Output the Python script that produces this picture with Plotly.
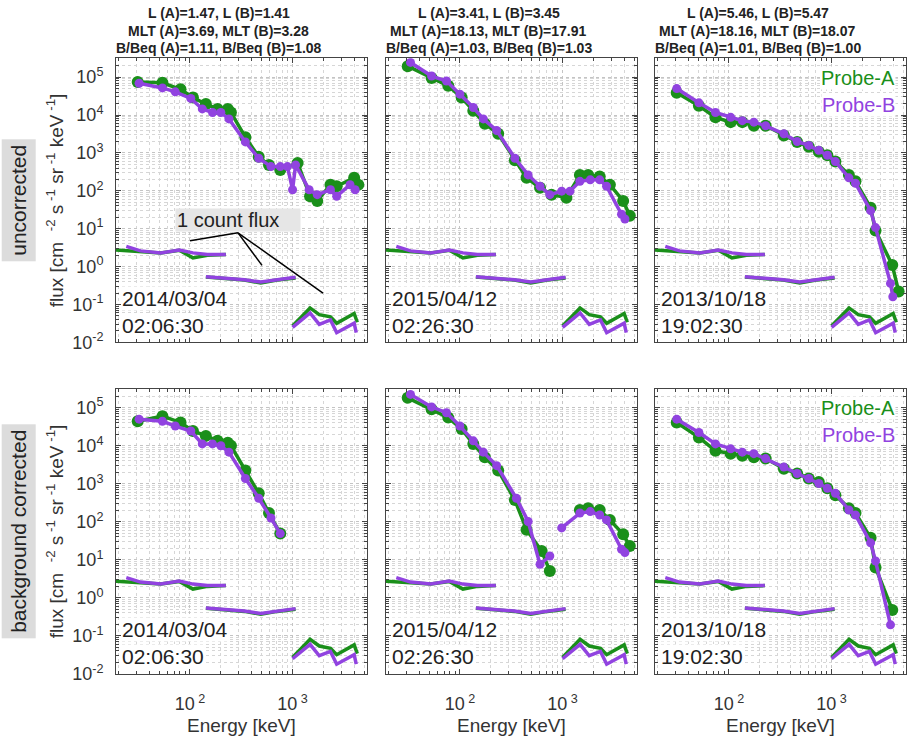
import math
import plotly.graph_objects as go

# ---------------- data ----------------
# 1-count flux levels (same in every panel)
cnt_low_e_a = [19, 29, 52, 79, 107, 148, 224]
cnt_low_f_a = [2.75, 2.5, 2.3, 2.7, 1.7, 2.0, 2.1]
cnt_low_e_b = [24, 33, 52, 79, 107, 148, 224]
cnt_low_f_b = [3.4, 2.6, 2.3, 2.75, 2.3, 2.1, 2.1]
cnt_med_e = [143, 214, 339, 490, 708, 1070]
cnt_med_f_a = [0.53, 0.48, 0.44, 0.37, 0.44, 0.50]
cnt_med_f_b = [0.54, 0.50, 0.45, 0.39, 0.45, 0.52]
cnt_high_e_a = [1000, 1480, 1820, 2340, 2690, 3980, 4270]
cnt_high_f_a = [0.027, 0.081, 0.054, 0.047, 0.032, 0.058, 0.034]
cnt_high_e_b = [1000, 1480, 1820, 2340, 2690, 3980, 4170]
cnt_high_f_b = [0.025, 0.060, 0.030, 0.039, 0.018, 0.032, 0.018]

# uncorrected, 2014/03/04
tl_a_e = [31, 54, 81, 107, 143, 186, 234, 251, 347, 468, 589, 759, 1120, 1480, 1740, 2340, 2690, 3980, 4370]
tl_a_f = [7.4e4, 7.1e4, 4.8e4, 2.9e4, 1.95e4, 1.45e4, 1.45e4, 1.17e4, 2.6e3, 790, 480, 355, 540, 72, 54, 145, 132, 220, 145]
tl_b_e = [32, 54, 72, 102, 132, 166, 200, 240, 347, 468, 616, 759, 891, 1000, 1070, 1450, 1740, 2340, 2690, 3630, 4070]
tl_b_f = [6.9e4, 5.2e4, 4.1e4, 2.75e4, 1.45e4, 1.17e4, 1.17e4, 7.9e3, 1.95e3, 725, 435, 435, 435, 107, 480, 107, 79, 107, 72, 145, 107]
# uncorrected, 2015/04/12
tm_a_e = [31, 53, 77, 104, 135, 175, 236, 343, 446, 603, 780, 1090, 1475, 1775, 2300, 2890, 3890, 4520]
tm_a_f = [1.95e5, 9.5e4, 5.9e4, 2.9e4, 1.29e4, 5.9e3, 3.2e3, 645, 220, 120, 79, 66, 263, 263, 240, 145, 54, 22]
tm_b_e = [33, 53, 74, 100, 135, 169, 228, 343, 462, 603, 751, 980, 1180, 1475, 1860, 2300, 2680, 3750, 4050]
tm_b_f = [2.45e5, 1.07e5, 7.9e4, 3.55e4, 1.58e4, 7.9e3, 3.9e3, 725, 263, 132, 79, 98, 98, 178, 195, 195, 132, 24, 18]
# uncorrected, 2013/10/18
tr_a_e = [31, 51, 74, 104, 135, 175, 228, 343, 462, 600, 751, 910, 1090, 1475, 1710, 2400, 2680, 3900, 4500]
tr_a_f = [3.9e4, 1.76e4, 8.7e3, 6.5e3, 6.5e3, 5.2e3, 5.2e3, 2.9e3, 1.95e3, 1.45e3, 1.07e3, 870, 590, 263, 178, 36, 8.9, 1.1, 0.22]
tr_b_e = [31, 51, 74, 104, 135, 175, 228, 343, 462, 600, 751, 910, 1090, 1475, 1710, 2400, 2680, 3750, 3950]
tr_b_f = [5.0e4, 2.1e4, 1.17e4, 8.7e3, 7.1e3, 6.5e3, 5.2e3, 3.2e3, 2.0e3, 1.58e3, 1.17e3, 870, 590, 220, 158, 30, 10.7, 0.36, 0.16]
# background corrected, 2014/03/04
bl_a_e = [31, 54, 81, 107, 143, 186, 234, 251, 347, 468, 589, 759]
bl_a_f = [4.4e4, 6.0e4, 4.1e4, 2.45e4, 1.82e4, 1.35e4, 1.2e4, 1.0e4, 2.24e3, 560, 170, 49]
bl_b_e = [32, 54, 72, 102, 132, 166, 200, 240, 347, 468, 616, 759]
bl_b_f = [5.0e4, 4.4e4, 3.3e4, 2.45e4, 1.12e4, 1.12e4, 1.0e4, 6.8e3, 1.38e3, 417, 126, 49]
# background corrected, 2015/04/12 (None = gap)
bm_a_e = [31, 53, 77, 104, 135, 175, 236, 343, 446, 625, 751, None, 1475, 1775, 2300, 2890, 3890, 4520]
bm_a_f = [1.82e5, 9.1e4, 5.5e4, 2.75e4, 1.12e4, 5.0e3, 2.24e3, 372, 62, 17, 5.1, None, 204, 229, 204, 112, 47, 23]
bm_b_e = [33, 53, 74, 100, 135, 169, 228, 355, 462, 603, 751, None, 980, 1475, 1860, 2300, 2680, 3750, 4050]
bm_b_f = [2.24e5, 1.05e5, 7.4e4, 3.3e4, 1.35e4, 6.8e3, 3.0e3, 417, 102, 7.6, 12.6, None, 69, 170, 186, 151, 112, 19, 15.5]
# background corrected, 2013/10/18
br_a_e = [31, 51, 74, 104, 135, 175, 228, 343, 462, 600, 751, 910, 1090, 1475, 1710, 2400, 2680, 3900]
br_a_f = [4.1e4, 1.66e4, 7.4e3, 6.2e3, 5.5e3, 5.0e3, 4.6e3, 2.5e3, 1.86e3, 1.38e3, 1.12e3, 760, 500, 229, 170, 38, 6.3, 0.48]
br_b_e = [31, 51, 74, 104, 135, 175, 228, 343, 462, 600, 751, 910, 1090, 1475, 1710, 2400, 2680, 3750]
br_b_f = [5.0e4, 2.24e4, 1.12e4, 8.3e3, 6.8e3, 6.2e3, 4.6e3, 2.75e3, 1.86e3, 1.38e3, 1.02e3, 760, 560, 204, 151, 28, 9.3, 0.195]

col_titles = [
    ["L (A)=1.47, L (B)=1.41", "MLT (A)=3.69, MLT (B)=3.28", "B/Beq (A)=1.11, B/Beq (B)=1.08"],
    ["L (A)=3.41, L (B)=3.45", "MLT (A)=18.13, MLT (B)=17.91", "B/Beq (A)=1.03, B/Beq (B)=1.03"],
    ["L (A)=5.46, L (B)=5.47", "MLT (A)=18.16, MLT (B)=18.07", "B/Beq (A)=1.01, B/Beq (B)=1.00"],
]
col_dates = ["2014/03/04", "2015/04/12", "2013/10/18"]
col_times = ["02:06:30", "02:26:30", "19:02:30"]
row_labels = ["uncorrected", "background corrected"]
y_tick_vals = [1e-2, 1e-1, 1e0, 1e1, 1e2, 1e3, 1e4, 1e5]
y_tick_text = ["10<sup>-2</sup>", "10<sup>-1</sup>", "10<sup>0</sup>", "10<sup>1</sup>",
               "10<sup>2</sup>", "10<sup>3</sup>", "10<sup>4</sup>", "10<sup>5</sup>"]
x_tick_vals = [100, 1000]
x_tick_text = ["10<sup> 2</sup>", "10<sup> 3</sup>"]

panels = [
    (tl_a_e, tl_a_f, tl_b_e, tl_b_f),
    (tm_a_e, tm_a_f, tm_b_e, tm_b_f),
    (tr_a_e, tr_a_f, tr_b_e, tr_b_f),
    (bl_a_e, bl_a_f, bl_b_e, bl_b_f),
    (bm_a_e, bm_a_f, bm_b_e, bm_b_f),
    (br_a_e, br_a_f, br_b_e, br_b_f),
]

# ---------------- layout geometry ----------------
W, H = 908, 749
GREEN = "#1a8f1a"
PURPLE = "#9143e0"
FONT = "Liberation Sans, Arial, sans-serif"
cols_x = [(116, 367), (386, 637), (655, 906)]
rows_y = [(59, 347), (394, 683)]
XR = [1.28, 3.725]
YR = [-2, 5.5]


def px(x):
    return x / W


def py(y):
    return 1 - y / H


x_minor = [k * 10 ** d for d in (1, 2, 3) for k in range(2, 10) if 10 ** XR[0] <= k * 10 ** d <= 10 ** XR[1]]
y_minor = [k * 10 ** d for d in range(-2, 6) for k in range(2, 10) if k * 10 ** d <= 10 ** YR[1]]

fig = go.Figure()
layout = dict(width=W, height=H, margin=dict(l=0, r=0, t=0, b=0), autosize=False,
              paper_bgcolor="white", plot_bgcolor="white", showlegend=False,
              font=dict(family=FONT, color="#222"))
annotations = []
shapes = []

for i, (ae, af, be, bf) in enumerate(panels):
    r, c = divmod(i, 3)
    n = i + 1
    xa = "x" if n == 1 else f"x{n}"
    ya = "y" if n == 1 else f"y{n}"
    # 1-count flux
    for e, f, col in [(cnt_low_e_a, cnt_low_f_a, GREEN), (cnt_low_e_b, cnt_low_f_b, PURPLE),
                      (cnt_med_e, cnt_med_f_a, GREEN), (cnt_med_e, cnt_med_f_b, PURPLE),
                      (cnt_high_e_a, cnt_high_f_a, GREEN), (cnt_high_e_b, cnt_high_f_b, PURPLE)]:
        fig.add_trace(go.Scatter(x=e, y=f, mode="lines", line=dict(color=col, width=3.5),
                                 xaxis=xa, yaxis=ya, hoverinfo="skip"))
    fig.add_trace(go.Scatter(x=ae, y=af, mode="lines+markers", line=dict(color=GREEN, width=3.5),
                             marker=dict(color=GREEN, size=12), connectgaps=False,
                             xaxis=xa, yaxis=ya, name="Probe-A"))
    fig.add_trace(go.Scatter(x=be, y=bf, mode="lines+markers", line=dict(color=PURPLE, width=3.5),
                             marker=dict(color=PURPLE, size=9), connectgaps=False,
                             xaxis=xa, yaxis=ya, name="Probe-B"))

    x0, x1 = cols_x[c]
    y0, y1 = rows_y[r]
    common = dict(type="log", showline=True, linecolor="#444", linewidth=1, mirror="ticks",
                  ticks="inside", ticklen=5, tickcolor="#444", showgrid=True,
                  gridcolor="#c4c4c4", griddash="dot", gridwidth=1, zeroline=False,
                  tickfont=dict(family=FONT, size=18, color="#333"))
    layout["xaxis" if n == 1 else f"xaxis{n}"] = dict(
        common, domain=[px(x0), px(x1)], anchor=ya, range=XR,
        tickmode="array", tickvals=x_tick_vals, ticktext=x_tick_text,
        showticklabels=(r == 1), ticklabelstandoff=14,
        minor=dict(tickmode="array", tickvals=x_minor, ticks="inside", ticklen=3,
                   tickcolor="#444", showgrid=True, gridcolor="#d6d6d6", griddash="dot"))
    layout["yaxis" if n == 1 else f"yaxis{n}"] = dict(
        common, domain=[py(y1), py(y0)], anchor=xa, range=YR,
        tickmode="array", tickvals=y_tick_vals, ticktext=y_tick_text,
        showticklabels=(c == 0), ticklabelstandoff=8,
        minor=dict(tickmode="array", tickvals=y_minor, ticks="inside", ticklen=3,
                   tickcolor="#444", showgrid=True, gridcolor="#d6d6d6", griddash="dot"))

    # date / time labels
    for txt, yy in [(col_dates[c], y0 + 244), (col_times[c], y0 + 271)]:
        annotations.append(dict(text=txt, x=px(x0 + 5), y=py(yy), xref="paper", yref="paper",
                                xanchor="left", yanchor="middle", showarrow=False,
                                bgcolor="white", borderpad=0,
                                font=dict(family=FONT, size=21, color="#222")))
    # probe legend in right column
    if c == 2:
        for txt, col, yy in [("Probe-A", GREEN, y0 + 20), ("Probe-B", PURPLE, y0 + 47)]:
            annotations.append(dict(text=txt, x=px(x1 - 10), y=py(yy), xref="paper", yref="paper",
                                    xanchor="right", yanchor="middle", showarrow=False,
                                    bgcolor="white", borderpad=0,
                                    font=dict(family=FONT, size=20, color=col)))
    if r == 1:
        annotations.append(dict(text="Energy [keV]", x=px((x0 + x1) / 2), y=py(735), xref="paper",
                                yref="paper", xanchor="center", yanchor="middle", showarrow=False,
                                font=dict(family=FONT, size=19, color="#333")))

# column titles
for c in range(3):
    x0, x1 = cols_x[c]
    for k, line in enumerate(col_titles[c]):
        annotations.append(dict(text=f"<b>{line}</b>", x=px((x0 + x1) / 2 - 23), y=py(13.5 + 17.7 * k),
                                xref="paper", yref="paper", xanchor="center", yanchor="middle",
                                showarrow=False, font=dict(family=FONT, size=14, color="#222")))

# row labels and y titles
for r in range(2):
    y0, y1 = rows_y[r]
    yc = (y0 + y1) / 2
    annotations.append(dict(text=row_labels[r], x=px(18.5), y=py(yc), xref="paper", yref="paper",
                            xanchor="center", yanchor="middle",
                            textangle=-90, showarrow=False, bgcolor="#dcdcdc", borderpad=5,
                            font=dict(family=FONT, size=21, color="#222")))
    annotations.append(dict(text="flux [cm  <sup>-2</sup> s<sup> -1</sup> sr<sup> -1</sup> keV<sup> -1</sup>]",
                            x=px(55), y=py(yc), xref="paper", yref="paper",
                            xanchor="center", yanchor="middle",
                            textangle=-90, showarrow=False,
                            font=dict(family=FONT, size=19, color="#333")))

# "1 count flux" label with leader lines (top-left panel)
annotations.append(dict(text="1 count flux", x=px(175), y=py(222.5), xref="paper", yref="paper",
                        xanchor="left", yanchor="middle", showarrow=False, bgcolor="#e6e6e6",
                        width=122, height=20, align="left", borderpad=1,
                        font=dict(family=FONT, size=20, color="#222")))
hub = (238, 236)
for end in [(190, 244), (262, 269), (323, 297)]:
    shapes.append(dict(type="line", xref="paper", yref="paper", x0=px(hub[0]), y0=py(hub[1]),
                       x1=px(end[0]), y1=py(end[1]), line=dict(color="black", width=1.5)))

layout["annotations"] = annotations
layout["shapes"] = shapes
fig.update_layout(**layout)
fig.write_html(
    "out.html", config={"displayModeBar": False},
    post_script=("document.documentElement.style.margin='0';document.body.style.margin='0';"
                 "document.documentElement.style.overflow='hidden';document.body.style.overflow='hidden';"))
